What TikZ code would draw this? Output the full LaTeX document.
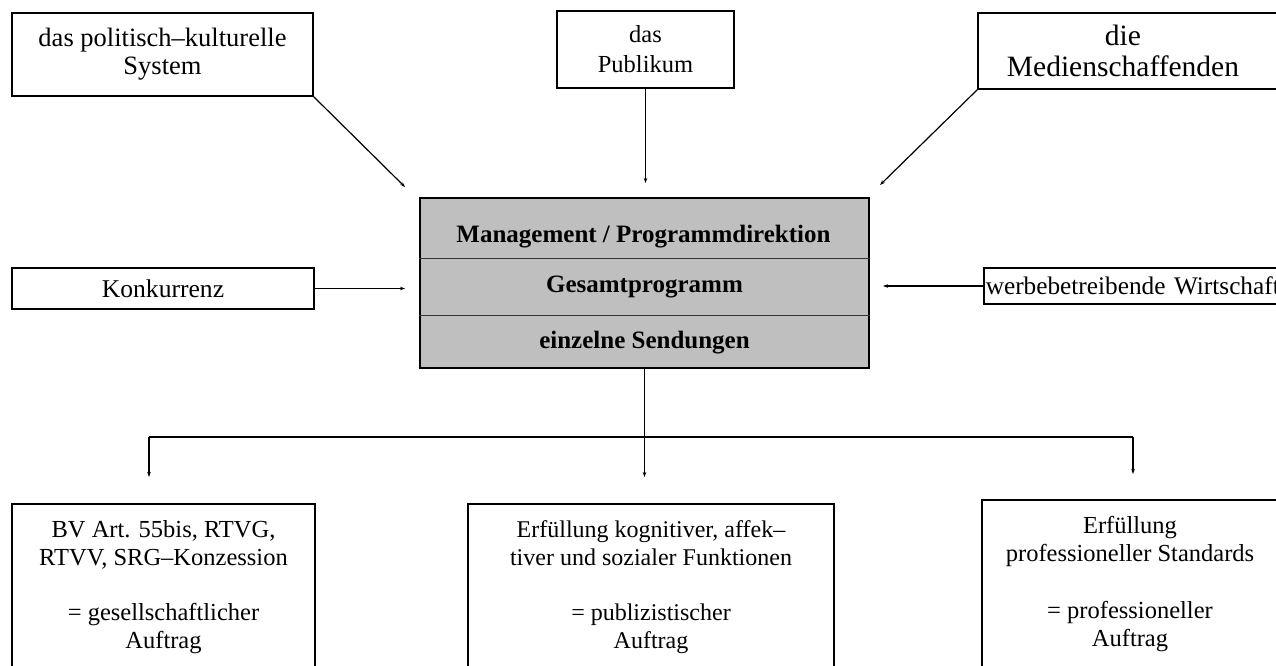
\documentclass[tikz,border=0pt]{standalone}
\usepackage{fontspec}
\setmainfont{Liberation Serif}
\usetikzlibrary{arrows.meta,calc}
\begin{document}
\begin{tikzpicture}[x=1pt,y=-1pt,
  box/.style={draw, line width=1.5pt, align=center, inner sep=0pt},
  botbox/.style={draw, line width=1.5pt, anchor=north, inner sep=0pt},
  arr/.style={line width=1.2pt, -{Stealth[length=5pt,width=3.5pt]}},
  ln/.style={line width=1.2pt},
  divider/.style={line width=0.7pt, black!80},
  boldtext/.style={anchor=base, inner sep=0pt, font=\bfseries\fontsize{25}{28}\selectfont},
]
\useasboundingbox (0,0) rectangle (1276,665);
\clip (0,0) rectangle (1276,665);
\fill[white] (0,0) rectangle (1276,665);

% top boxes
\node[box, minimum width=301pt, minimum height=83pt, font=\fontsize{26.5}{28}\selectfont] (pol) at (162.5,54.5) {das politisch–kulturelle\\System};
\node[box, minimum width=177pt, minimum height=77pt, font=\fontsize{24.5}{30}\selectfont] (pub) at (645.5,49.5) {das\\Publikum};
\node[box, minimum width=324pt, minimum height=76pt, font=\fontsize{29.5}{32}\selectfont] (med) at (1140,51) {\raisebox{3pt}{\parbox{290pt}{\centering die\\[-1pt]Medienschaffenden}}\hspace{34pt}};

% side boxes
\node[box, minimum width=302pt, minimum height=41pt, font=\fontsize{25.6}{28}\selectfont] (kon) at (163,288.5) {Konkurrenz};
\node[box, anchor=west, minimum height=36pt, inner xsep=2pt, text width=310pt, align=left, font=\fontsize{25.3}{28}\selectfont] (wer) at (983,286) {werbebetreibende Wirtschaft};

% centre box
\node[fill=black!25, draw, line width=1.5pt, minimum width=449pt, minimum height=170pt, inner sep=0pt] (cbox) at (644.5,283) {};
\draw[divider] ($(cbox.north west)+(0,61)$) -- ($(cbox.north east)+(0,61)$);
\draw[divider] ($(cbox.north west)+(0,118)$) -- ($(cbox.north east)+(0,118)$);
\node[boldtext] (t1) at (643.5,242) {Management / Programmdirektion};
\node[boldtext] (t2) at (644.5,292) {Gesamtprogramm};
\node[boldtext] (t3) at (644.5,348) {einzelne Sendungen};

% incoming arrows
\coordinate (polT) at (405,187);
\coordinate (pubT) at (645.5,183);
\coordinate (medT) at (880,185);
\coordinate (konT) at (405,288.5);
\coordinate (werT) at (883,286);
\draw[arr] (pol.south east) -- (polT);
\draw[arr] (pub.south) -- (pubT);
\draw[arr] (med.south west) -- (medT);
\draw[arr] (kon.east) -- (konT);
\draw[arr] (wer.west) -- (werT);

% bottom boxes
\node[botbox] (b1) at (163.5,503) {\parbox[t][200pt][t]{303pt}{\centering\fontsize{24.5}{28}\selectfont\rule{0pt}{34pt}BV Art. 55bis, RTVG,\\RTVV, SRG–Konzession\\[27pt]= gesellschaftlicher\\Auftrag}};
\node[botbox] (b2) at (651,503) {\parbox[t][200pt][t]{366pt}{\centering\fontsize{24}{28}\selectfont\rule{0pt}{34pt}Erfüllung kognitiver, affek–\\tiver und sozialer Funktionen\\[27pt]= publizistischer\\Auftrag}};
\node[botbox] (b3) at (1130,499) {\parbox[t][200pt][t]{296pt}{\centering\fontsize{24.5}{28}\selectfont\rule{0pt}{34pt}Erfüllung\\professioneller Standards\\[29pt]= professioneller\\Auftrag}};

% outgoing tree
\coordinate (split) at (644.5,437);
\coordinate (hl) at (149,437);
\coordinate (hr) at (1133,437);
\coordinate (b1T) at (149,477);
\coordinate (b2T) at (644.5,477);
\coordinate (b3T) at (1133,474);
\draw[ln] (cbox.south) -- (split);
\draw[ln] (hl) -- (hr);
\draw[arr] (hl) -- (b1T);
\draw[arr] (split) -- (b2T);
\draw[arr] (hr) -- (b3T);
\end{tikzpicture}
\end{document}
